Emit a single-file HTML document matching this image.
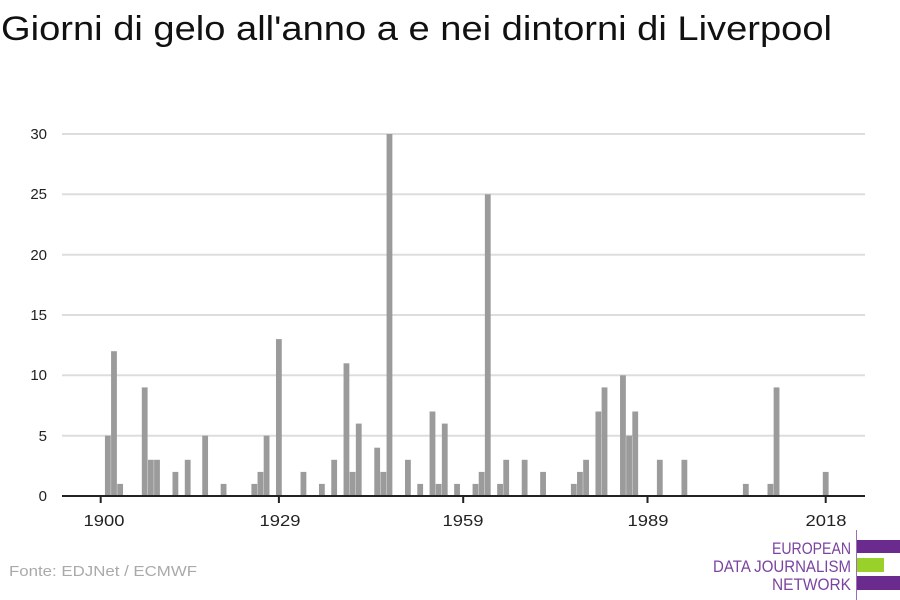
<!DOCTYPE html>
<html><head><meta charset="utf-8"><style>
html,body{margin:0;padding:0;background:#fff;}
svg{display:block;font-family:"Liberation Sans",sans-serif;}
</style></head><body>
<svg width="900" height="600" viewBox="0 0 900 600" xmlns="http://www.w3.org/2000/svg">
<text x="1" y="40" font-size="34" fill="#111" textLength="831" lengthAdjust="spacingAndGlyphs">Giorni di gelo all'anno a e nei dintorni di Liverpool</text>
<g stroke="#dddddd" stroke-width="2">
<line x1="62" x2="865" y1="134" y2="134"/>
<line x1="62" x2="865" y1="194.3" y2="194.3"/>
<line x1="62" x2="865" y1="254.7" y2="254.7"/>
<line x1="62" x2="865" y1="315" y2="315"/>
<line x1="62" x2="865" y1="375.3" y2="375.3"/>
<line x1="62" x2="865" y1="435.7" y2="435.7"/>
</g>
<g font-size="15" fill="#222" text-anchor="end">
<text x="47" y="139">30</text><text x="47" y="199">25</text><text x="47" y="260">20</text>
<text x="47" y="320">15</text><text x="47" y="380">10</text><text x="47" y="441">5</text><text x="47" y="501">0</text>
</g>
<g fill="#9b9b9b">
<rect x="104.94" y="435.7" width="5.8" height="60.3"/>
<rect x="111.08" y="351.2" width="5.8" height="144.8"/>
<rect x="117.23" y="483.9" width="5.8" height="12.1"/>
<rect x="141.8" y="387.4" width="5.8" height="108.6"/>
<rect x="147.95" y="459.8" width="5.8" height="36.2"/>
<rect x="154.1" y="459.8" width="5.8" height="36.2"/>
<rect x="172.5" y="471.9" width="5.8" height="24.1"/>
<rect x="184.8" y="459.8" width="5.8" height="36.2"/>
<rect x="202.25" y="435.7" width="5.8" height="60.3"/>
<rect x="220.68" y="483.9" width="5.8" height="12.1"/>
<rect x="251.4" y="483.9" width="5.8" height="12.1"/>
<rect x="257.54" y="471.9" width="5.8" height="24.1"/>
<rect x="263.69" y="435.7" width="5.8" height="60.3"/>
<rect x="275.98" y="339.1" width="5.8" height="156.9"/>
<rect x="300.55" y="471.9" width="5.8" height="24.1"/>
<rect x="318.98" y="483.9" width="5.8" height="12.1"/>
<rect x="331.27" y="459.8" width="5.8" height="36.2"/>
<rect x="343.56" y="363.3" width="5.8" height="132.7"/>
<rect x="349.7" y="471.9" width="5.8" height="24.1"/>
<rect x="355.85" y="423.6" width="5.8" height="72.4"/>
<rect x="374.28" y="447.7" width="5.8" height="48.3"/>
<rect x="380.42" y="471.9" width="5.8" height="24.1"/>
<rect x="386.57" y="134" width="5.8" height="362"/>
<rect x="405" y="459.8" width="5.8" height="36.2"/>
<rect x="417.29" y="483.9" width="5.8" height="12.1"/>
<rect x="429.58" y="411.5" width="5.8" height="84.5"/>
<rect x="435.72" y="483.9" width="5.8" height="12.1"/>
<rect x="441.86" y="423.6" width="5.8" height="72.4"/>
<rect x="454.15" y="483.9" width="5.8" height="12.1"/>
<rect x="472.58" y="483.9" width="5.8" height="12.1"/>
<rect x="478.73" y="471.9" width="5.8" height="24.1"/>
<rect x="484.87" y="194.3" width="5.8" height="301.7"/>
<rect x="497.16" y="483.9" width="5.8" height="12.1"/>
<rect x="503.3" y="459.8" width="5.8" height="36.2"/>
<rect x="521.74" y="459.8" width="5.8" height="36.2"/>
<rect x="540.17" y="471.9" width="5.8" height="24.1"/>
<rect x="570.89" y="483.9" width="5.8" height="12.1"/>
<rect x="577.03" y="471.9" width="5.8" height="24.1"/>
<rect x="583.18" y="459.8" width="5.8" height="36.2"/>
<rect x="595.46" y="411.5" width="5.8" height="84.5"/>
<rect x="601.61" y="387.4" width="5.8" height="108.6"/>
<rect x="620.04" y="375.3" width="5.8" height="120.7"/>
<rect x="626.18" y="435.7" width="5.8" height="60.3"/>
<rect x="632.33" y="411.5" width="5.8" height="84.5"/>
<rect x="656.9" y="459.8" width="5.8" height="36.2"/>
<rect x="681.48" y="459.8" width="5.8" height="36.2"/>
<rect x="742.92" y="483.9" width="5.8" height="12.1"/>
<rect x="767.5" y="483.9" width="5.8" height="12.1"/>
<rect x="773.64" y="387.4" width="5.8" height="108.6"/>
<rect x="822.8" y="471.9" width="5.8" height="24.1"/>
</g>
<line x1="62" x2="865" y1="496" y2="496" stroke="#222" stroke-width="2"/>
<g stroke="#222" stroke-width="2">
<line x1="100.7" x2="100.7" y1="496" y2="503"/><line x1="278.9" x2="278.9" y1="496" y2="503"/>
<line x1="463.2" x2="463.2" y1="496" y2="503"/><line x1="647.5" x2="647.5" y1="496" y2="503"/>
<line x1="825.7" x2="825.7" y1="496" y2="503"/>
</g>
<g font-size="16" fill="#222" text-anchor="middle">
<text x="104" y="526" textLength="41" lengthAdjust="spacingAndGlyphs">1900</text>
<text x="280" y="526" textLength="41" lengthAdjust="spacingAndGlyphs">1929</text>
<text x="463" y="526" textLength="41" lengthAdjust="spacingAndGlyphs">1959</text>
<text x="648" y="526" textLength="41" lengthAdjust="spacingAndGlyphs">1989</text>
<text x="826" y="526" textLength="41" lengthAdjust="spacingAndGlyphs">2018</text>
</g>
<text x="9" y="576" font-size="15" fill="#aaaaaa" textLength="188" lengthAdjust="spacingAndGlyphs">Fonte: EDJNet / ECMWF</text>
<line x1="856.5" x2="856.5" y1="530" y2="600" stroke="#9b6fb8" stroke-width="1"/>
<rect x="857" y="540" width="43" height="13" fill="#6a2a8e"/>
<rect x="857" y="558" width="27" height="14" fill="#9ad02a"/>
<rect x="857" y="576" width="43" height="14" fill="#6a2a8e"/>
<g font-size="17" fill="#7b44a0" text-anchor="end">
<text x="851" y="554" textLength="79" lengthAdjust="spacingAndGlyphs">EUROPEAN</text>
<text x="851" y="572" textLength="138" lengthAdjust="spacingAndGlyphs">DATA JOURNALISM</text>
<text x="851" y="590" textLength="79" lengthAdjust="spacingAndGlyphs">NETWORK</text>
</g>
</svg>
</body></html>
